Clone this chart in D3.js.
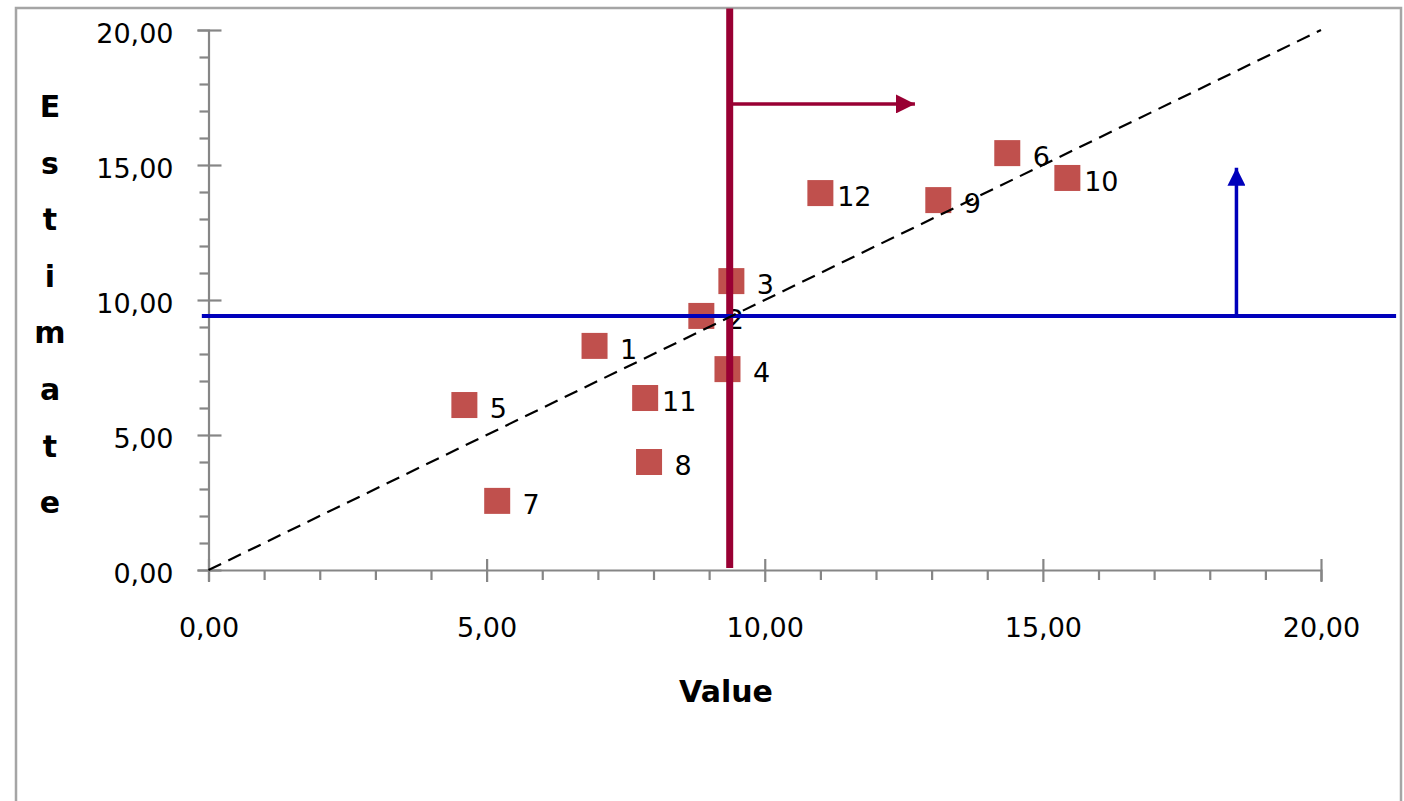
<!DOCTYPE html>
<html>
<head>
<meta charset="utf-8">
<script src="https://cdn.jsdelivr.net/npm/d3@7/dist/d3.min.js"></script>
<style>
  html, body { margin: 0; padding: 0; background: #fff; }
  svg { display: block; }
</style>
</head>
<body>
<svg id="chart" width="1404" height="801"></svg>
<script>
// ---- data ----
const pointLabels = ["1","2","3","4","5","6","7","8","9","10","11","12"];
const values      = [6.94, 8.86, 9.40, 9.33, 4.60, 14.36, 5.19, 7.92, 13.12, 15.44, 7.85, 11.00];
const estimates   = [8.30, 9.41, 10.70, 7.44, 6.11, 15.44, 2.56, 4.00, 13.70, 14.52, 6.37, 13.96];
const majorTicks  = [0, 5, 10, 15, 20];
const minorTicks  = [1,2,3,4,6,7,8,9,11,12,13,14,16,17,18,19];
const diagonal    = [[0, 0], [20, 20]];
// reference lines (data units)
const valueCut     = 9.37;               // vertical crimson line
const valueCutSpan = [0, 20.8];
const valueArrow   = [17.26, 12.70];     // [estimate level, arrow tip value]
const estimateCut  = 9.41;               // horizontal blue line
const estimateSpan = [-0.12, 21.35];
const estimateArrow = [18.48, 14.9];     // [value position, arrow tip estimate]

const xTitle = "Value";
const yTitle = "Estimate";

// ---- setup ----
const svg = d3.select("#chart");
const x = d3.scaleLinear().domain([0, 20]).range([208.5, 1321]);
const y = d3.scaleLinear().domain([0, 20]).range([570, 30]);
const loc = d3.formatLocale({decimal: ",", thousands: ".", grouping: [3], currency: ["", ""]});
const fmt = loc.format(".2f");
const FONT = "'DejaVu Sans', Verdana, sans-serif";
const axisColor = "#868686";

// outer border
svg.append("rect")
  .attr("x", 16).attr("y", 8).attr("width", 1385).attr("height", 900)
  .attr("fill", "#fff").attr("stroke", "#a5a5a5").attr("stroke-width", 2.5);

// defs for arrowheads
const defs = svg.append("defs");
function marker(id, color, len, half) {
  defs.append("marker")
    .attr("id", id).attr("markerUnits", "userSpaceOnUse")
    .attr("viewBox", `0 ${-half} ${len} ${2*half}`)
    .attr("refX", len).attr("refY", 0)
    .attr("markerWidth", len).attr("markerHeight", 2*half)
    .attr("orient", "auto")
    .append("path").attr("d", `M0,${-half}L${len},0L0,${half}Z`).attr("fill", color);
}
marker("arrRed", "#990033", 19, 9.5);
marker("arrBlue", "#0000bb", 18, 9);

// ---- axes ----
const xAxisG = svg.append("g").attr("transform", `translate(0,${y(0)})`);
xAxisG.call(d3.axisBottom(x).tickValues(minorTicks).tickSize(10).tickFormat(""));
xAxisG.call(g => g.select(".domain").remove());
const xMajor = svg.append("g").attr("transform", `translate(0,${y(0)})`)
  .call(d3.axisBottom(x).tickValues(majorTicks).tickSizeOuter(0).tickSize(11).tickFormat(fmt));
xMajor.selectAll(".tick line").attr("y1", -11).attr("y2", 12);
xMajor.selectAll(".tick text").attr("y", 67).attr("dy", 0);

const yAxisG = svg.append("g").attr("transform", `translate(${x(0)},0)`);
yAxisG.call(d3.axisLeft(y).tickValues(minorTicks).tickSize(9).tickFormat(""));
yAxisG.call(g => g.select(".domain").remove());
const yMajor = svg.append("g").attr("transform", `translate(${x(0)},0)`)
  .call(d3.axisLeft(y).tickValues(majorTicks).tickSizeOuter(0).tickSize(11).tickFormat(fmt));
yMajor.selectAll(".tick line").attr("x1", 13).attr("x2", -11);
yMajor.selectAll(".tick text").attr("x", -35).attr("y", 12.5).attr("dy", 0);

svg.selectAll(".tick line, .domain").attr("stroke", axisColor).attr("stroke-width", 2.2);
svg.selectAll(".tick text")
  .attr("font-family", FONT).attr("font-size", 27).attr("fill", "#000");

// axis titles
svg.append("text")
  .attr("x", 726).attr("y", 702)
  .attr("text-anchor", "middle")
  .attr("font-family", FONT).attr("font-weight", "bold").attr("font-size", 30)
  .attr("fill", "#000")
  .text(xTitle);

const yt = svg.append("text")
  .attr("font-family", FONT).attr("font-weight", "bold").attr("font-size", 30)
  .attr("fill", "#000").attr("text-anchor", "middle");
yTitle.split("").forEach((ch, i) => {
  yt.append("tspan").attr("x", 50).attr("y", 117 + i * 56.6).text(ch);
});

// ---- points ----
const pts = pointLabels.map((l, i) => ({label: l, v: values[i], e: estimates[i]}));
const S = 26;
svg.append("g").selectAll("rect").data(pts).join("rect")
  .attr("x", d => x(d.v) - S/2).attr("y", d => y(d.e) - S/2)
  .attr("width", S).attr("height", S)
  .attr("fill", "#c0504d");

svg.append("g").selectAll("text").data(pts).join("text")
  .attr("x", d => x(d.v) + 34).attr("y", d => y(d.e) + 13)
  .attr("text-anchor", "middle")
  .attr("font-family", FONT).attr("font-size", 27).attr("fill", "#000")
  .text(d => d.label);

// ---- reference lines ----
// vertical crimson line
svg.append("line")
  .attr("x1", x(valueCut)).attr("x2", x(valueCut))
  .attr("y1", y(valueCutSpan[0]) - 2).attr("y2", y(valueCutSpan[1]))
  .attr("stroke", "#990033").attr("stroke-width", 7);
// crimson arrow
svg.append("line")
  .attr("x1", x(valueCut) + 3).attr("x2", x(valueArrow[1]))
  .attr("y1", y(valueArrow[0])).attr("y2", y(valueArrow[0]))
  .attr("stroke", "#990033").attr("stroke-width", 3.5)
  .attr("marker-end", "url(#arrRed)");

// horizontal blue line
svg.append("line")
  .attr("x1", x(estimateSpan[0])).attr("x2", x(estimateSpan[1]))
  .attr("y1", y(estimateCut)).attr("y2", y(estimateCut))
  .attr("stroke", "#0000bb").attr("stroke-width", 4);
// blue arrow
svg.append("line")
  .attr("x1", x(estimateArrow[0])).attr("x2", x(estimateArrow[0]))
  .attr("y1", y(estimateCut)).attr("y2", y(estimateArrow[1]))
  .attr("stroke", "#0000bb").attr("stroke-width", 3.5)
  .attr("marker-end", "url(#arrBlue)");

// dashed diagonal
svg.append("path")
  .datum(diagonal)
  .attr("d", d3.line().x(d => x(d[0])).y(d => y(d[1])))
  .attr("fill", "none").attr("stroke", "#000").attr("stroke-width", 2.2)
  .attr("stroke-dasharray", "14,8");
</script>
</body>
</html>
